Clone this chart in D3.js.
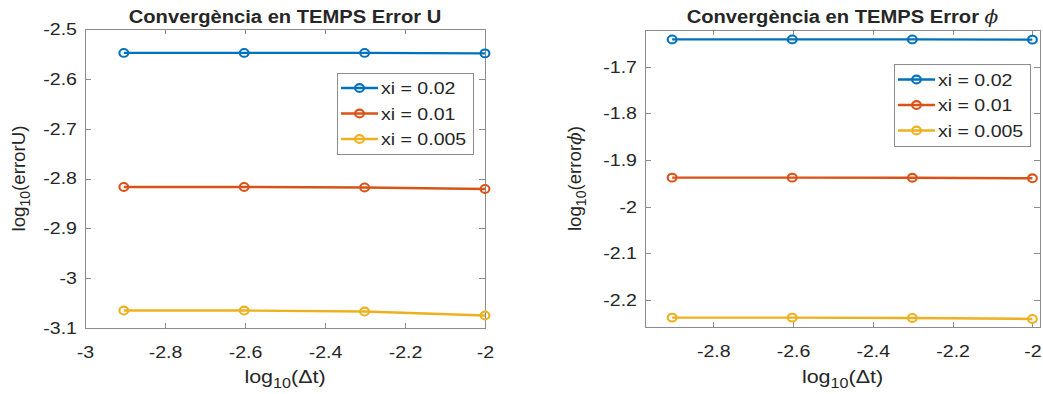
<!DOCTYPE html>
<html>
<head>
<meta charset="utf-8">
<script src="https://cdn.jsdelivr.net/npm/d3@7"></script>
<style>
    body { margin: 0; background: #fff; }
    text { font-family: "Liberation Sans", Arial, Helvetica, sans-serif; fill: #262626; }
</style>
</head>
<body>
<svg id="chart" width="1043" height="394"></svg>
<script>
// x values: log10 of the time step
const logDt = [-2.903, -2.602, -2.301, -2.0];

const seriesNames = ["xi = 0.02", "xi = 0.01", "xi = 0.005"];
const seriesColors = ["#0072BD", "#D95319", "#EDB120"];

// log10(errorU)
const errU_002 = [-2.548, -2.548, -2.548, -2.549];
const errU_001 = [-2.817, -2.817, -2.818, -2.821];
const errU_0005 = [-3.065, -3.065, -3.067, -3.075];

// log10(error phi)
const errPhi_002 = [-1.6415, -1.6415, -1.6415, -1.642];
const errPhi_001 = [-1.9378, -1.9378, -1.938, -1.9392];
const errPhi_0005 = [-2.2378, -2.2378, -2.2385, -2.2406];

const xTicksU = [-3, -2.8, -2.6, -2.4, -2.2, -2];
const yTicksU = [-3.1, -3, -2.9, -2.8, -2.7, -2.6, -2.5];
const xTicksPhi = [-2.8, -2.6, -2.4, -2.2, -2];
const yTicksPhi = [-2.2, -2.1, -2, -1.9, -1.8, -1.7];

const SX = 1.15; // picture is a bit wider than tall
const boxColor = "#8c8c8c";
const labelSize = 18.7;

const svg = d3.select("#chart");

function stretchedText(g, x, y, sx = SX) {
    return g.append("text")
        .attr("transform", `translate(${x},${y}) scale(${sx},1)`);
}

function marker(g, cx, cy, color) {
    return g.append("ellipse")
        .attr("cx", cx).attr("cy", cy)
        .attr("rx", 4.4).attr("ry", 3.9)
        .attr("fill", "none")
        .attr("stroke", color)
        .attr("stroke-width", 2.1);
}

function drawPanel(p) {
    const g = svg.append("g");
    const x = d3.scaleLinear().domain(p.xDomain).range([p.left, p.right]);
    const y = d3.scaleLinear().domain(p.yDomain).range([p.bottom, p.top]);

    // ticks inside the box on all four sides
    const axes = [
        [d3.axisBottom(x), `translate(0,${p.bottom})`, p.xTicks, true],
        [d3.axisTop(x), `translate(0,${p.top})`, p.xTicks, false],
        [d3.axisLeft(y), `translate(${p.left},0)`, p.yTicks, true],
        [d3.axisRight(y), `translate(${p.right},0)`, p.yTicks, false]
    ];
    axes.forEach(([ax, tr, vals, labels], i) => {
        const a = g.append("g")
            .attr("transform", tr)
            .call(ax.tickValues(vals)
                .tickSizeInner(i < 2 ? -5 : -6)
                .tickSizeOuter(0)
                .tickPadding(i === 0 ? 18 : 7)
                .tickFormat(labels ? (d => String(d)) : ""));
        a.select(".domain").remove();
        a.selectAll(".tick line").attr("stroke", boxColor).attr("shape-rendering", "crispEdges");
        a.selectAll(".tick text")
            .attr("font-size", 17)
            .attr("font-family", null)
            .attr("fill", "#262626")
            .attr("transform", `scale(${SX},1)`);
    });

    g.append("rect")
        .attr("x", p.left + 0.5).attr("y", p.top + 0.5)
        .attr("width", p.right - p.left).attr("height", p.bottom - p.top)
        .attr("fill", "none").attr("stroke", boxColor)
        .attr("shape-rendering", "crispEdges");

    const line = d3.line().x(d => x(d[0])).y(d => y(d[1]));
    p.series.forEach((vals, i) => {
        const pts = logDt.map((v, j) => [v, vals[j]]);
        g.append("path")
            .attr("d", line(pts))
            .attr("fill", "none")
            .attr("stroke", seriesColors[i])
            .attr("stroke-width", 2.4);
        pts.forEach(d => marker(g, x(d[0]), y(d[1]), seriesColors[i]));
    });

    // title
    const t = stretchedText(g, (p.left + p.right) / 2, 23, 1.09)
        .attr("text-anchor", "middle")
        .attr("font-size", 18.5)
        .attr("font-weight", "bold")
        .attr("fill", "#000");
    t.append("tspan").text(p.title);
    if (p.titleSym) {
        t.append("tspan").text(p.titleSym)
            .attr("font-family", "'DejaVu Serif', serif")
            .attr("font-style", "italic")
            .attr("font-weight", "normal");
    }

    // x label
    const xl = stretchedText(g, (p.left + p.right) / 2, 383)
        .attr("text-anchor", "middle")
        .attr("font-size", labelSize);
    xl.append("tspan").text("log");
    xl.append("tspan").text("10").attr("font-size", 14).attr("dy", 5);
    xl.append("tspan").text("(\u0394t)").attr("dy", -5);

    // y label
    const yl = g.append("text")
        .attr("transform", `translate(${p.ylabelX},${(p.top + p.bottom) / 2}) rotate(-90)`)
        .attr("text-anchor", "middle")
        .attr("font-size", labelSize);
    yl.append("tspan").text("log");
    yl.append("tspan").text("10").attr("font-size", 14).attr("dy", 5);
    yl.append("tspan").text("(error" + (p.ylabelSym ? "" : p.ylabelTail)).attr("dy", -5);
    if (p.ylabelSym) {
        yl.append("tspan").text(p.ylabelSym)
            .attr("font-family", "'DejaVu Serif', serif")
            .attr("font-style", "italic");
    }
    yl.append("tspan").text(")");

    // legend
    const lg = p.legend;
    g.append("rect")
        .attr("x", lg.x + 0.5).attr("y", lg.y + 0.5)
        .attr("width", lg.w).attr("height", lg.h)
        .attr("fill", "#fff").attr("stroke", boxColor)
        .attr("shape-rendering", "crispEdges");
    seriesNames.forEach((name, i) => {
        const ry = lg.y + lg.h / 2 + (i - 1) * 25.5;
        g.append("line")
            .attr("x1", lg.x + 4).attr("x2", lg.x + 41)
            .attr("y1", ry).attr("y2", ry)
            .attr("stroke", seriesColors[i]).attr("stroke-width", 2.4);
        marker(g, lg.x + 22.5, ry, seriesColors[i]);
        stretchedText(g, lg.x + 44, ry)
            .attr("dy", "0.36em")
            .attr("font-size", 17)
            .text(name);
    });
}

drawPanel({
    left: 85, right: 485, top: 29, bottom: 328,
    xDomain: [-3, -2], yDomain: [-3.1, -2.5],
    xTicks: xTicksU, yTicks: yTicksU,
    series: [errU_002, errU_001, errU_0005],
    title: "Convergència en TEMPS Error U",
    ylabelX: 25, ylabelTail: "U",
    legend: { x: 337, y: 73, w: 136, h: 81 }
});

drawPanel({
    left: 645, right: 1040, top: 30, bottom: 327,
    xDomain: [-2.971, -1.981], yDomain: [-2.2579, -1.6213],
    xTicks: xTicksPhi, yTicks: yTicksPhi,
    series: [errPhi_002, errPhi_001, errPhi_0005],
    title: "Convergència en TEMPS Error ",
    titleSym: "\u03D5",
    ylabelX: 581, ylabelSym: "\u03D5",
    legend: { x: 894, y: 64, w: 136, h: 82 }
});
</script>
</body>
</html>
